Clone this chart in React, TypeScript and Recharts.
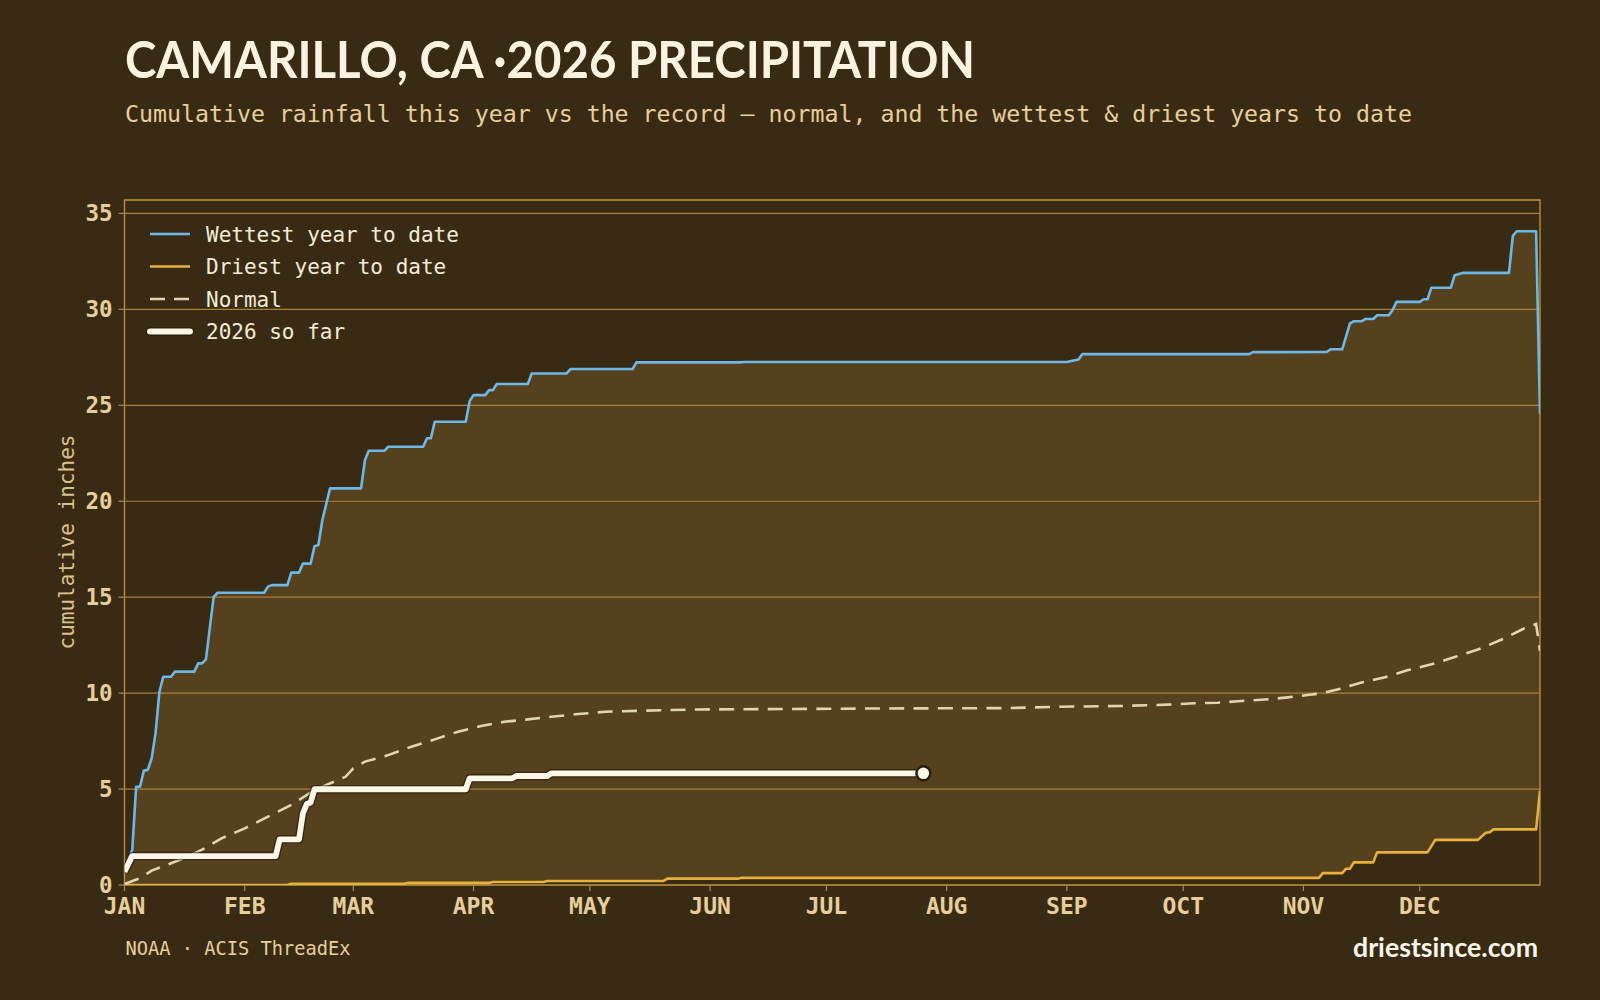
import React from 'react';
import {
  ComposedChart,
  Area,
  Line,
  XAxis,
  YAxis,
  CartesianGrid,
  ReferenceArea,
  ReferenceDot,
  Legend,
} from 'recharts';

// ---- axes ----
const MONTH_STARTS = [0, 31, 59, 90, 120, 151, 181, 212, 243, 273, 304, 334];
const MONTH_LABELS = ['JAN', 'FEB', 'MAR', 'APR', 'MAY', 'JUN', 'JUL', 'AUG', 'SEP', 'OCT', 'NOV', 'DEC'];
const DAY_DOMAIN: [number, number] = [0, 365];
const Y_TICKS = [0, 5, 10, 15, 20, 25, 30, 35];
const Y_DOMAIN: [number, number] = [0, 35.7];

// ---- series: [day of year (Jan 1 = 0), cumulative inches] ----
const WETTEST: [number, number][] = [
  [0, 0.87], [2, 1.82], [3, 5.12], [4, 5.12], [5, 5.96], [6, 6.0], [7, 6.6], [8, 7.9],
  [9, 10.07], [10, 10.85], [12, 10.85], [13, 11.12], [18, 11.12], [19, 11.55], [20, 11.55],
  [21, 11.76], [22, 13.4], [23, 15.02], [24, 15.23], [36, 15.23], [37, 15.55], [38, 15.63],
  [42, 15.63], [43, 16.28], [45, 16.28], [46, 16.75], [48, 16.75], [49, 17.66], [50, 17.72],
  [51, 19.0], [53, 20.67], [61, 20.67], [62, 22.15], [63, 22.63], [67, 22.63], [68, 22.84],
  [77, 22.84], [78, 23.28], [79, 23.28], [80, 24.14], [88, 24.14], [89, 25.22], [90, 25.53],
  [93, 25.53], [94, 25.79], [95, 25.79], [96, 26.11], [104, 26.11], [105, 26.66], [114, 26.66],
  [115, 26.89], [131, 26.89], [132, 27.24], [159, 27.24], [160, 27.26], [243, 27.26],
  [245, 27.35], [246, 27.39], [247, 27.67], [290, 27.67], [291, 27.77], [310, 27.78],
  [311, 27.92], [314, 27.92], [316, 29.27], [317, 29.38], [319, 29.38], [320, 29.5],
  [322, 29.5], [323, 29.69], [326, 29.69], [327, 29.97], [328, 30.39], [334, 30.39],
  [335, 30.53], [336, 30.53], [337, 31.13], [342, 31.13], [343, 31.78], [345, 31.9],
  [357, 31.9], [358, 33.83], [359, 34.07], [364, 34.07], [365, 24.56],
];

const DRIEST: [number, number][] = [
  [0, 0], [42, 0], [43, 0.06], [72, 0.06], [73, 0.11], [94, 0.11], [95, 0.16], [108, 0.16],
  [109, 0.21], [139, 0.21], [140, 0.33], [158, 0.33], [159, 0.37], [308, 0.37], [309, 0.62],
  [314, 0.62], [315, 0.85], [316, 0.85], [317, 1.18], [322, 1.18], [323, 1.7], [336, 1.7],
  [338, 2.35], [349, 2.35], [351, 2.72], [352, 2.75], [353, 2.9], [364, 2.9], [365, 4.9],
];

const NORMAL: [number, number][] = [
  [0, 0.05], [4, 0.35], [7, 0.75], [12, 1.13], [16, 1.45], [20, 1.84], [25, 2.43], [31, 2.95],
  [37, 3.56], [43, 4.17], [49, 4.95], [54, 5.38], [57, 5.64], [59, 6.08], [62, 6.43],
  [68, 6.77], [74, 7.21], [80, 7.59], [86, 7.99], [92, 8.29], [98, 8.51], [104, 8.63],
  [110, 8.77], [117, 8.91], [124, 9.03], [133, 9.08], [141, 9.12], [148, 9.15], [170, 9.17],
  [195, 9.2], [228, 9.22], [241, 9.29], [257, 9.33], [269, 9.4], [276, 9.47], [282, 9.5],
  [288, 9.59], [295, 9.68], [300, 9.78], [305, 9.9], [309, 10.0], [313, 10.2], [319, 10.55],
  [325, 10.83], [331, 11.2], [337, 11.5], [343, 11.88], [349, 12.27], [355, 12.78],
  [361, 13.38], [364, 13.6], [365, 12.2],
];

const THIS_YEAR: [number, number][] = [
  [0, 0.69], [2, 1.51], [39, 1.51], [40, 2.38], [45, 2.38], [46, 3.73], [47, 4.22], [48, 4.3],
  [49, 4.99], [88, 4.99], [89, 5.56], [100, 5.56], [101, 5.68], [109, 5.68], [110, 5.82],
  [206, 5.82],
];

// ---- text ----
const TITLE = 'CAMARILLO, CA ·2026 PRECIPITATION';
const SUBTITLE = 'Cumulative rainfall this year vs the record — normal, and the wettest & driest years to date';
const Y_LABEL = 'cumulative inches';
const SOURCE = 'NOAA · ACIS ThreadEx';
const SITE = 'driestsince.com';
const LEGEND_LABELS = ['Wettest year to date', 'Driest year to date', 'Normal', '2026 so far'];

// ---- palette ----
const BG = '#392b13';
const BAND = '#55411e';
const GRID = '#a8813a';
const FRAME = '#b88d3e';
const BLUE = '#6db8e6';
const GOLD = '#e8b03c';
const CREAM = '#e2d4b0';
const WHITE = '#fcf6e7';
const TAN = '#e6cf9c';
const TICK = '#9a8a68';

const MONO = '"DejaVu Sans Mono", monospace';
const SANS = 'Lato, "Open Sans", sans-serif';

const rows = (pts: [number, number][]) => pts.map(([day, v]) => ({ day, v }));

const wettestRows = rows(WETTEST);
const driestRows = rows(DRIEST);
const normalRows = rows(NORMAL);
const thisYearRows = rows(THIS_YEAR);
const lastPoint = thisYearRows[thisYearRows.length - 1];

const monthLabel = (d: number) => MONTH_LABELS[MONTH_STARTS.indexOf(d)] ?? '';

function LegendBox() {
  const rowY = [234, 266.5, 299, 331.5];
  const x1 = 150;
  const x2 = 190;
  return (
    <svg width={520} height={360} style={{ display: 'block' }}>
      <line x1={x1} x2={x2} y1={rowY[0]} y2={rowY[0]} stroke={BLUE} strokeWidth={2.6} />
      <line x1={x1} x2={x2} y1={rowY[1]} y2={rowY[1]} stroke={GOLD} strokeWidth={2.6} />
      <line x1={x1} x2={x2} y1={rowY[2]} y2={rowY[2]} stroke={CREAM} strokeWidth={2.6} strokeDasharray="15 9" />
      <line x1={x1} x2={x2} y1={rowY[3]} y2={rowY[3]} stroke="rgba(25,17,5,0.55)" strokeWidth={8.5} strokeLinecap="round" />
      <line x1={x1} x2={x2} y1={rowY[3]} y2={rowY[3]} stroke={WHITE} strokeWidth={6} strokeLinecap="round" />
      {LEGEND_LABELS.map((label, i) => (
        <text key={label} x={206} y={rowY[i] + 7.5} fill="#f4ecd8" fontFamily={MONO} fontSize={21}>
          {label}
        </text>
      ))}
    </svg>
  );
}

export default function App() {
  return (
    <div
      style={{
        position: 'absolute',
        left: 0,
        top: 0,
        width: 1600,
        height: 1000,
        background: BG,
        overflow: 'hidden',
      }}
    >
      <svg width={1600} height={1000} style={{ position: 'absolute', left: 0, top: 0 }}>
        <text
          x={125}
          y={77.5}
          fill="#fbf3e0"
          fontFamily={SANS}
          fontWeight={700}
          fontSize={51}
          textLength={850}
          lengthAdjust="spacingAndGlyphs"
        >
          {TITLE}
        </text>
        <text
          x={125}
          y={121.5}
          fill={TAN}
          fontFamily={MONO}
          fontSize={23}
          textLength={1287}
          lengthAdjust="spacingAndGlyphs"
        >
          {SUBTITLE}
        </text>
        <text
          transform="translate(73.5 542) rotate(-90)"
          textAnchor="middle"
          fill="#d9c08c"
          fontFamily={MONO}
          fontSize={21}
        >
          {Y_LABEL}
        </text>
        <text x={125.5} y={955} fill={TAN} fontFamily={MONO} fontSize={18.7}>
          {SOURCE}
        </text>
        <text
          x={1538}
          y={956.5}
          textAnchor="end"
          fill="#fbf6ea"
          fontFamily={SANS}
          fontWeight={700}
          fontSize={26}
          textLength={185}
          lengthAdjust="spacingAndGlyphs"
        >
          {SITE}
        </text>
      </svg>

      <div style={{ position: 'absolute', left: 0, top: 0 }}>
        <ComposedChart
          width={1600}
          height={1000}
          margin={{ top: 200, right: 60, bottom: 75, left: 64.5 }}
        >
          <XAxis
            type="number"
            dataKey="day"
            domain={DAY_DOMAIN}
            ticks={MONTH_STARTS}
            tickFormatter={monthLabel}
            allowDataOverflow
            height={40}
            axisLine={false}
            tickSize={6}
            tickMargin={7}
            tickLine={{ stroke: TICK, strokeWidth: 1.2 }}
            tick={{ fill: TAN, fontSize: 23, fontWeight: 700, fontFamily: MONO }}
          />
          <YAxis
            type="number"
            domain={Y_DOMAIN}
            ticks={Y_TICKS}
            allowDataOverflow
            width={60}
            axisLine={false}
            tickSize={6}
            tickMargin={6}
            tickLine={{ stroke: TICK, strokeWidth: 1.2 }}
            tick={{ fill: TAN, fontSize: 22.5, fontWeight: 700, fontFamily: MONO }}
          />

          {/* record band: fill up to the wettest year, then cut away below the driest */}
          <Area
            data={wettestRows}
            dataKey="v"
            type="linear"
            fill={BAND}
            fillOpacity={1}
            stroke="none"
            isAnimationActive={false}
          />
          <Area
            data={driestRows}
            dataKey="v"
            type="linear"
            fill={BG}
            fillOpacity={1}
            stroke="none"
            isAnimationActive={false}
          />

          <CartesianGrid vertical={false} stroke={GRID} strokeWidth={1.2} zIndex={150} />

          <Line
            data={wettestRows}
            dataKey="v"
            type="linear"
            stroke={BLUE}
            strokeWidth={2.6}
            strokeLinejoin="round"
            dot={false}
            isAnimationActive={false}
          />
          <Line
            data={driestRows}
            dataKey="v"
            type="linear"
            stroke={GOLD}
            strokeWidth={2.6}
            strokeLinejoin="round"
            dot={false}
            isAnimationActive={false}
          />
          <Line
            data={normalRows}
            dataKey="v"
            type="linear"
            stroke={CREAM}
            strokeWidth={2.6}
            strokeDasharray="15 9.3"
            dot={false}
            isAnimationActive={false}
          />
          <Line
            data={thisYearRows}
            dataKey="v"
            type="linear"
            stroke="rgba(25,17,5,0.55)"
            strokeWidth={8.5}
            strokeLinejoin="round"
            dot={false}
            isAnimationActive={false}
            legendType="none"
          />
          <Line
            data={thisYearRows}
            dataKey="v"
            type="linear"
            stroke={WHITE}
            strokeWidth={5.8}
            strokeLinejoin="round"
            dot={false}
            isAnimationActive={false}
          />

          <ReferenceArea
            x1={DAY_DOMAIN[0]}
            x2={DAY_DOMAIN[1]}
            y1={Y_DOMAIN[0]}
            y2={Y_DOMAIN[1]}
            fill="none"
            fillOpacity={0}
            stroke={FRAME}
            strokeWidth={1.4}
            ifOverflow="visible"
          />
          <ReferenceDot
            x={lastPoint.day}
            y={lastPoint.v}
            r={7}
            fill={WHITE}
            stroke="#2a1e0c"
            strokeWidth={2.5}
            ifOverflow="visible"
          />

          <Legend
            layout="horizontal"
            verticalAlign="middle"
            align="center"
            wrapperStyle={{ left: 0, top: 0, width: 520, height: 360 }}
            content={() => <LegendBox />}
          />
        </ComposedChart>
      </div>
    </div>
  );
}
